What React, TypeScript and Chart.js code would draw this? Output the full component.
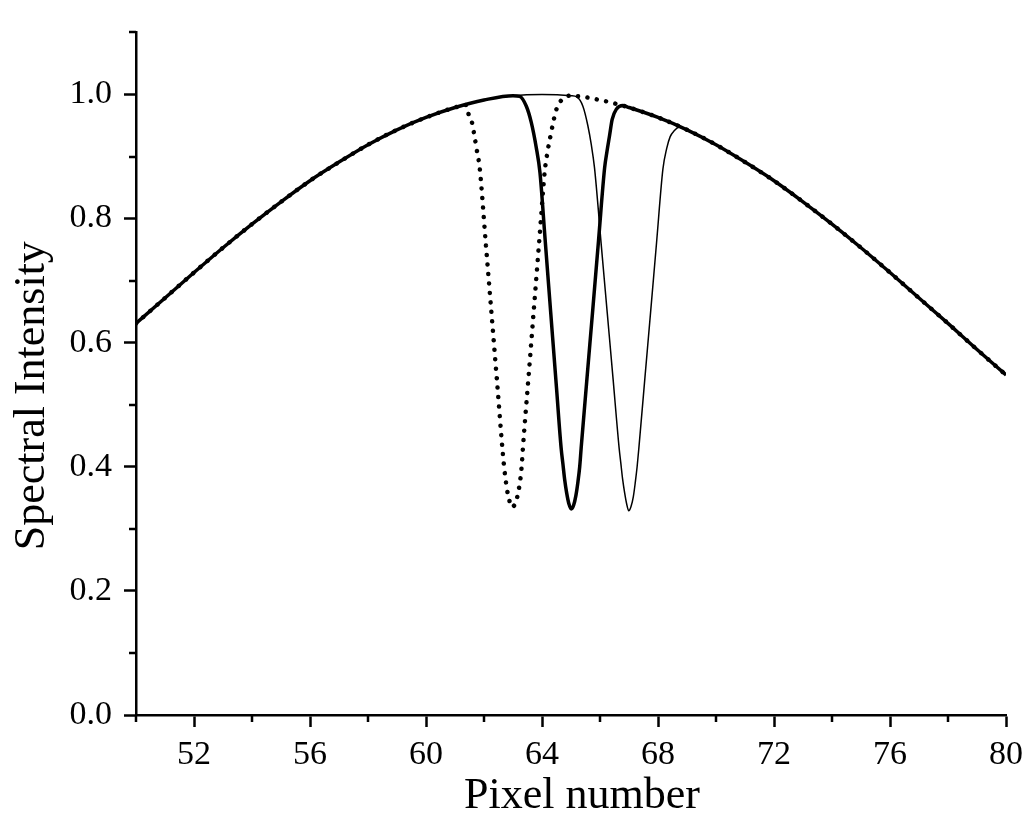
import React, { useEffect, useRef } from "react";
import { Chart, registerables } from "chart.js";

Chart.register(...registerables);

// Broad envelope (pixel number vs. spectral intensity)
const envelopeX = [50, 51, 52, 53, 54, 55, 56, 57, 58, 59, 60, 61, 62, 63, 64, 65, 66, 67, 68, 69, 70, 71, 72, 73, 74, 75, 76, 77, 78, 79, 80];
const envelopeY = [0.631, 0.672, 0.713, 0.753, 0.791, 0.827, 0.861, 0.891, 0.919, 0.943, 0.963, 0.979, 0.991, 0.998, 1.0, 0.998, 0.991, 0.979, 0.963, 0.943, 0.919, 0.891, 0.861, 0.827, 0.791, 0.753, 0.713, 0.672, 0.631, 0.589, 0.548];

// Dip of the dotted curve (centre ~63)
const dottedDipX = [61.38, 61.47, 61.59, 61.65, 61.75, 61.85, 62.05, 62.25, 62.45, 62.65, 62.71, 62.75, 62.79, 62.86, 62.94, 63.03, 63.11, 63.17, 63.23, 63.3, 63.34, 63.55, 63.75, 63.95, 64.09, 64.2, 64.3, 64.41, 64.49, 64.64, 64.95];
const dottedDipY = [0.983, 0.968, 0.954, 0.939, 0.911, 0.882, 0.767, 0.652, 0.537, 0.421, 0.393, 0.378, 0.364, 0.349, 0.335, 0.337, 0.344, 0.357, 0.372, 0.401, 0.429, 0.553, 0.672, 0.791, 0.874, 0.91, 0.935, 0.96, 0.975, 0.989, 0.998];

// Dip of the thick solid curve (centre ~65)
const thickDipX = [63.23, 63.46, 63.63, 63.8, 63.93, 64.1, 64.3, 64.5, 64.66, 64.72, 64.78, 64.85, 64.93, 65.01, 65.09, 65.17, 65.24, 65.3, 65.35, 65.55, 65.75, 65.95, 66.16, 66.24, 66.33, 66.42, 66.56, 66.79];
const thickDipY = [0.997, 0.981, 0.955, 0.915, 0.874, 0.771, 0.649, 0.527, 0.43, 0.405, 0.38, 0.358, 0.34, 0.332, 0.338, 0.354, 0.376, 0.4, 0.43, 0.542, 0.653, 0.765, 0.882, 0.908, 0.934, 0.96, 0.976, 0.982];

// Dip of the thin solid curve (centre ~67)
const thinDipX = [65.2, 65.41, 65.58, 65.7, 65.81, 66.05, 66.25, 66.45, 66.66, 66.72, 66.78, 66.85, 66.92, 66.99, 67.07, 67.15, 67.22, 67.28, 67.34, 67.55, 67.75, 67.95, 68.17, 68.3, 68.42, 68.55, 68.74];
const thinDipY = [0.996, 0.981, 0.95, 0.919, 0.882, 0.754, 0.648, 0.542, 0.43, 0.405, 0.38, 0.358, 0.34, 0.329, 0.336, 0.352, 0.376, 0.4, 0.43, 0.544, 0.652, 0.761, 0.88, 0.913, 0.932, 0.941, 0.947];

// Axis ticks
const xMajorTicks = [52, 56, 60, 64, 68, 72, 76, 80];
const xMinorTicks = [50, 54, 58, 62, 66, 70, 74, 78];
const yMajorTicks = [0, 0.2, 0.4, 0.6, 0.8, 1.0];
const yMinorTicks = [0.1, 0.3, 0.5, 0.7, 0.9, 1.1];

function buildSeries(dipX: number[], dipY: number[]) {
  const lo = dipX[0];
  const hi = dipX[dipX.length - 1];
  const pts: { x: number; y: number }[] = [];
  envelopeX.forEach((x, i) => {
    if (x < lo - 0.05) pts.push({ x, y: envelopeY[i] });
  });
  dipX.forEach((x, i) => pts.push({ x, y: dipY[i] }));
  envelopeX.forEach((x, i) => {
    if (x > hi + 0.05) pts.push({ x, y: envelopeY[i] });
  });
  return pts;
}

const FONT = '"Liberation Serif", "Times New Roman", serif';

const minorTicksPlugin = {
  id: "minorTicks",
  afterDraw(chart: any) {
    const { ctx, chartArea, scales } = chart;
    const x = scales.x;
    const y = scales.y;
    ctx.save();
    ctx.strokeStyle = "#000";
    ctx.lineWidth = 2.5;
    ctx.beginPath();
    for (const v of xMinorTicks) {
      const px = Math.round(x.getPixelForValue(v));
      ctx.moveTo(px, chartArea.bottom);
      ctx.lineTo(px, chartArea.bottom + 7);
    }
    for (const v of yMinorTicks) {
      const py = Math.round(y.getPixelForValue(v));
      ctx.moveTo(chartArea.left, py);
      ctx.lineTo(chartArea.left - 7, py);
    }
    ctx.stroke();
    ctx.restore();
  },
};

export default function App() {
  const canvasRef = useRef<HTMLCanvasElement | null>(null);

  useEffect(() => {
    document.body.style.margin = "0";
    const canvas = canvasRef.current;
    if (!canvas) return;
    const chart = new Chart(canvas, {
      type: "line",
      data: {
        datasets: [
          {
            label: "dotted",
            data: buildSeries(dottedDipX, dottedDipY),
            borderColor: "#000",
            borderWidth: 4.5,
            borderDash: [0.01, 9.5],
            borderCapStyle: "round",
            pointRadius: 0,
            cubicInterpolationMode: "monotone",
            fill: false,
          },
          {
            label: "thick",
            data: buildSeries(thickDipX, thickDipY),
            borderColor: "#000",
            borderWidth: 3.5,
            pointRadius: 0,
            cubicInterpolationMode: "monotone",
            fill: false,
          },
          {
            label: "thin",
            data: buildSeries(thinDipX, thinDipY),
            borderColor: "#000",
            borderWidth: 1.5,
            pointRadius: 0,
            cubicInterpolationMode: "monotone",
            fill: false,
          },
        ],
      },
      options: {
        animation: false,
        responsive: false,
        devicePixelRatio: 1,
        layout: { padding: { left: 0, top: 12, right: 24, bottom: 0 } },
        plugins: {
          legend: { display: false },
          tooltip: { enabled: false },
        },
        scales: {
          x: {
            type: "linear",
            min: 50,
            max: 80,
            afterBuildTicks: (scale: any) => {
              scale.ticks = xMajorTicks.map((v) => ({ value: v }));
            },
            afterFit: (scale: any) => {
              scale.height = 122;
            },
            ticks: {
              autoSkip: false,
              maxRotation: 0,
              color: "#000",
              padding: 8,
              font: { family: FONT, size: 34 },
              callback: (v: any) => String(v),
            },
            grid: {
              display: true,
              drawOnChartArea: false,
              drawTicks: true,
              tickLength: 12,
              tickWidth: 2.5,
              tickColor: "#000",
            },
            border: { display: true, color: "#000", width: 2.5 },
            title: {
              display: true,
              text: "\u2002Pixel number",
              color: "#000",
              font: { family: FONT, size: 44 },
              padding: { top: 0, bottom: 14 },
            },
          },
          y: {
            type: "linear",
            min: 0,
            max: 1.1,
            afterBuildTicks: (scale: any) => {
              scale.ticks = yMajorTicks.map((v) => ({ value: v }));
            },
            afterFit: (scale: any) => {
              scale.width = 136;
            },
            ticks: {
              autoSkip: false,
              color: "#000",
              padding: 12,
              font: { family: FONT, size: 34 },
              callback: (v: any) => Number(v).toFixed(1),
            },
            grid: {
              display: true,
              drawOnChartArea: false,
              drawTicks: true,
              tickLength: 12,
              tickWidth: 2.5,
              tickColor: "#000",
            },
            border: { display: true, color: "#000", width: 2.5 },
            title: {
              display: true,
              text: "Spectral Intensity\u2003",
              color: "#000",
              font: { family: FONT, size: 44 },
              padding: { top: 6, bottom: 0 },
            },
          },
        },
      },
      plugins: [minorTicksPlugin],
    } as any);
    return () => chart.destroy();
  }, []);

  return (
    <div style={{ width: 1031, height: 837, background: "#fff" }}>
      <canvas ref={canvasRef} width={1031} height={837} />
    </div>
  );
}
